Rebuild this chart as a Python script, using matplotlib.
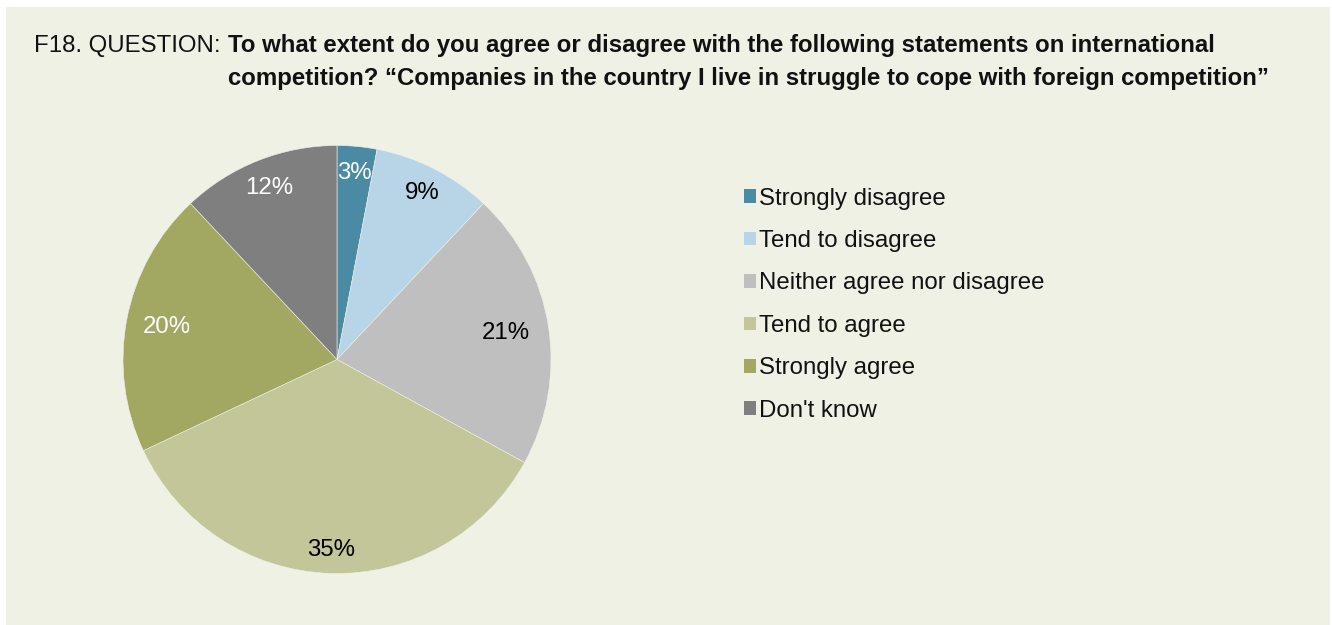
import matplotlib.pyplot as plt
from matplotlib.patches import Rectangle
import numpy as np

plt.rcParams['font.family'] = ['Liberation Sans', 'DejaVu Sans']

categories = ['Strongly disagree', 'Tend to disagree', 'Neither agree nor disagree',
              'Tend to agree', 'Strongly agree', "Don't know"]
shares = [3, 9, 21, 35, 20, 12]

colors = ['#4A8AA2', '#B7D5E6', '#BFBFBF', '#C2C698', '#A2A862', '#7F7F7F']
label_colors = ['white', 'black', 'black', 'black', 'white', 'white']
label_radius = [0.875, 0.875, 0.80, 0.89, 0.81, 0.86]
BG = '#EFF1E5'
FS = 17.3

W, H = 1332, 625
fig = plt.figure(figsize=(W / 100, H / 100), dpi=100, facecolor='white')
fig.patches.append(Rectangle((6 / W, 0), (1330 - 6) / W, (625 - 7) / H,
                             transform=fig.transFigure, facecolor=BG,
                             edgecolor='none', zorder=-10))

# title: plain prefix, bold question on two lines
fig.text(34 / W, 1 - 52 / H, 'F18. QUESTION:', fontsize=FS, va='baseline',
         ha='left', color='#111111')
fig.text(228 / W, 1 - 52 / H,
         'To what extent do you agree or disagree with the following statements on international',
         fontsize=FS, fontweight='bold', va='baseline', ha='left', color='#111111')
fig.text(228 / W, 1 - 85 / H,
         'competition? \u201cCompanies in the country I live in struggle to cope with foreign competition\u201d',
         fontsize=FS, fontweight='bold', va='baseline', ha='left', color='#111111')

# pie
cx, cy, r = 337, 359.5, 214
ax = fig.add_axes([(cx - r) / W, (H - cy - r) / H, 2 * r / W, 2 * r / H])
ax.set_facecolor('none')
wedges, _ = ax.pie(shares, colors=colors, startangle=90, counterclock=False,
                   radius=1, wedgeprops=dict(edgecolor=BG, linewidth=0.4))
ax.set_xlim(-1, 1)
ax.set_ylim(-1, 1)
ax.set_aspect('equal')
ax.axis('off')

for w, v, c, d in zip(wedges, shares, label_colors, label_radius):
    ang = np.deg2rad((w.theta1 + w.theta2) / 2)
    ax.text(d * np.cos(ang), d * np.sin(ang), f'{v}%', ha='center', va='center',
            fontsize=FS, color=c)

leg = fig.legend(wedges, categories, loc='upper left',
                 bbox_to_anchor=(734 / W, 1 - 178 / H), frameon=False,
                 fontsize=FS, handlelength=0.5, handleheight=0.5,
                 handletextpad=0.15, labelspacing=0.85, borderaxespad=0)
for t in leg.get_texts():
    t.set_color('#111111')
for h in leg.legend_handles:
    h.set_edgecolor('none')

fig.savefig('out.png', dpi=100, facecolor='white')
